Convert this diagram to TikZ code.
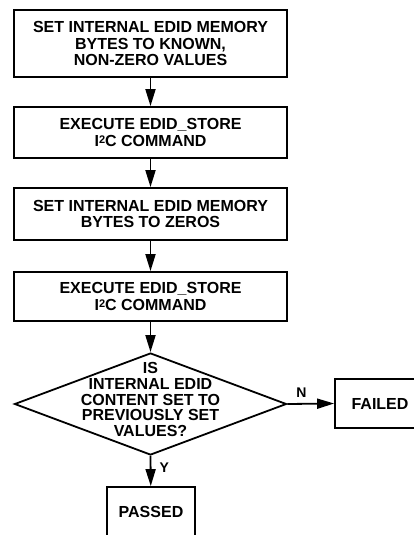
\documentclass[tikz,border=0pt]{standalone}
\usepackage{fontspec}
\setmainfont{Liberation Sans}
\usetikzlibrary{arrows.meta,shapes.geometric}

\newcommand{\itwoc}{I\raisebox{3pt}{\fontsize{11}{11}\selectfont 2}C}

\begin{document}
\begin{tikzpicture}[
    x=1pt, y=-1pt,
    box/.style={rectangle, draw, line width=1.8pt, minimum width=273pt, align=center, inner sep=0pt, font=\fontsize{16}{16.3}\selectfont\bfseries},
    endbox/.style={rectangle, draw, line width=1.8pt, minimum width=90pt, minimum height=49pt, inner sep=0pt, font=\fontsize{16}{16.3}\selectfont\bfseries},
    decision/.style={diamond, draw, line width=1.8pt, minimum width=272pt, minimum height=102pt, inner sep=0pt},
    qtext/.style={align=center, inner sep=0pt, font=\fontsize{16}{15.7}\selectfont\bfseries},
    lbl/.style={font=\fontsize{14}{16}\selectfont\bfseries, inner sep=2pt},
    arrow/.style={-{Triangle[length=17pt, width=10pt]}, line width=1.8pt}
  ]
    \useasboundingbox (0,0) rectangle (414,535);

    % Main column
    \node[box, minimum height=67pt] (setknown) at (150.5,43.5) {SET INTERNAL EDID MEMORY\\BYTES TO KNOWN,\\NON-ZERO VALUES};
    \node[box, minimum height=51pt] (store1) at (150.5,132.5) {EXECUTE EDID\_STORE\\\itwoc{} COMMAND};
    \node[box, minimum height=52pt] (setzero) at (150.5,214) {SET INTERNAL EDID MEMORY\\BYTES TO ZEROS};
    \node[box, minimum height=49pt] (store2) at (150.5,296.5) {EXECUTE EDID\_STORE\\\itwoc{} COMMAND};

    % Decision
    \node[decision] (check) at (150.5,404) {};
    \node[qtext] (checktext) at (150.5,399.5) {IS\\INTERNAL EDID\\CONTENT SET TO\\PREVIOUSLY SET\\VALUES?};

    % Results
    \node[endbox] (failed) at (380,403.5) {FAILED};
    \node[endbox, minimum width=88pt] (passed) at (151,511.5) {PASSED};

    % Connectors
    \draw[arrow] (setknown) -- (store1);
    \draw[arrow] (store1) -- (setzero);
    \draw[arrow] (setzero) -- (store2);
    \draw[arrow] (store2) -- (check);
    \draw[arrow] (check.east) -- node[lbl, pos=0.3, above=3pt] {N} (failed.west);
    \draw[arrow] (check.south) -- node[lbl, pos=0.4, right=6pt] {Y} (passed);

  \end{tikzpicture}
\end{document}
